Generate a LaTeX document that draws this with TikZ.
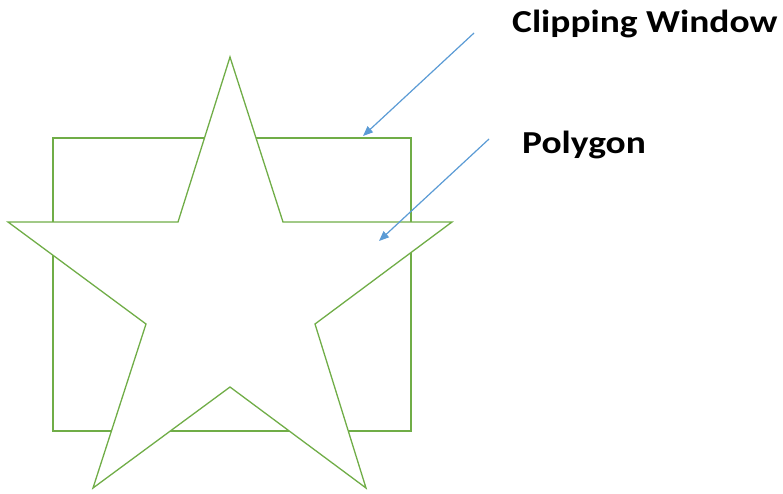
\documentclass[tikz,border=0pt]{standalone}
\usepackage{fontspec}
\setmainfont{Carlito}
\newfontfamily\tagfont[FakeStretch=1.17]{Carlito}
\usepackage{tikz}
\usetikzlibrary{arrows.meta,positioning}
\definecolor{shapegreen}{RGB}{112,173,71}
\definecolor{arrowblue}{RGB}{91,155,213}
\tikzstyle{outline} = [draw=shapegreen, line width=1.3pt, line join=miter]
\tikzstyle{pointer} = [draw=arrowblue, line width=1.2pt, -{Triangle[length=10pt,width=8pt]}]
\tikzstyle{tag} = [font=\tagfont\bfseries\fontsize{32}{34}\selectfont, inner sep=0pt, anchor=base west]

\begin{document}
\begin{tikzpicture}[x=1pt, y=-1pt]
        \useasboundingbox (0,0) rectangle (783,493);
        % Clipping window
        \draw [outline] (53,138) rectangle (411,431);
        % Star polygon
        \draw [outline, fill=white] (230,57) -- (283,222) -- (452,222) -- (315,324) -- (366,488)
            -- (230,387) -- (93,488) -- (146,324) -- (8,222) -- (178,222) -- cycle;

        % Labels
        \node [tag] (window) at (512,32) {Clipping Window};
        \node [tag] (polygon) at (522,153) {Polygon};

        % Pointers
        \coordinate (windowtail) at (474,33);
        \coordinate (windowhead) at (363,136);
        \coordinate (polygontail) at (489,139);
        \coordinate (polygonhead) at (379,241);
        \draw [pointer] (windowtail) -- (windowhead);
        \draw [pointer] (polygontail) -- (polygonhead);
\end{tikzpicture}
\end{document}
